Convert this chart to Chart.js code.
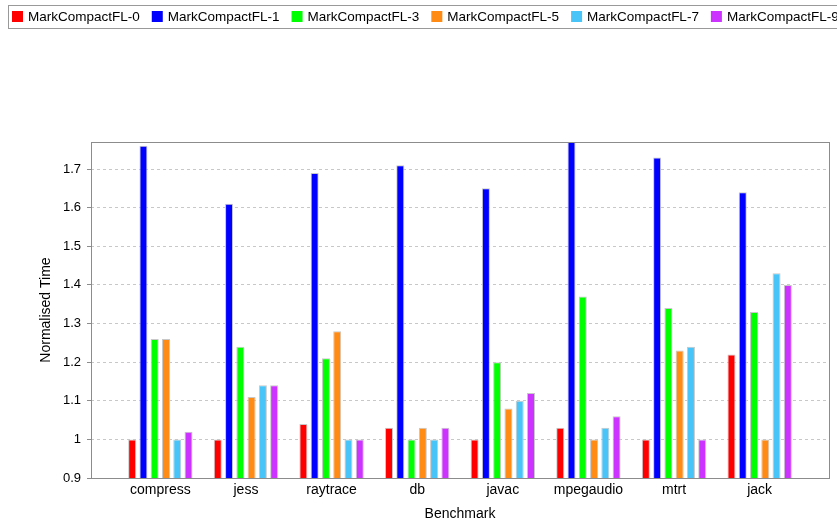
<!DOCTYPE html>
<html>
<head>
<meta charset="utf-8">
<script src="https://cdn.jsdelivr.net/npm/chart.js@4.4.1/dist/chart.umd.min.js"></script>
<style>
  html, body { margin: 0; padding: 0; background: #fff; }
  #wrap { width: 837px; height: 525px; }
</style>
</head>
<body>
<div id="wrap"><canvas id="myChart" width="837" height="525"></canvas></div>
<script>
var benchmarks = ['compress', 'jess', 'raytrace', 'db', 'javac', 'mpegaudio', 'mtrt', 'jack'];
var seriesNames = ['MarkCompactFL-0', 'MarkCompactFL-1', 'MarkCompactFL-3', 'MarkCompactFL-5', 'MarkCompactFL-7', 'MarkCompactFL-9'];
var seriesColors = ['#ff0000', '#0000ff', '#00ff00', '#ff8a14', '#48c4f8', '#cc33ff'];

var fl0 = [1.00, 1.00, 1.04, 1.03, 1.00, 1.03, 1.00, 1.22];
var fl1 = [1.76, 1.61, 1.69, 1.71, 1.65, 1.78, 1.73, 1.64];
var fl3 = [1.26, 1.24, 1.21, 1.00, 1.20, 1.37, 1.34, 1.33];
var fl5 = [1.26, 1.11, 1.28, 1.03, 1.08, 1.00, 1.23, 1.00];
var fl7 = [1.00, 1.14, 1.00, 1.00, 1.10, 1.03, 1.24, 1.43];
var fl9 = [1.02, 1.14, 1.00, 1.03, 1.12, 1.06, 1.00, 1.40];

var yTicks = [0.9, 1.0, 1.1, 1.2, 1.3, 1.4, 1.5, 1.6, 1.7];

var FONT = '"Liberation Sans", Arial, sans-serif';
var allSeries = [fl0, fl1, fl3, fl5, fl7, fl9];

// benchmarks sit at x = 1..8 on a linear axis so the frame can have extra room at the sides
var datasets = allSeries.map(function(values, i) {
    return {
        label: seriesNames[i],
        data: values.map(function(v, j) { return {x: j + 1, y: v}; }),
        backgroundColor: seriesColors[i],
        borderColor: '#c8c8c8',
        borderWidth: 1,
        borderSkipped: false,
        categoryPercentage: 0.79,
        barPercentage: 0.71
    };
});

// legend strip across the top, left aligned and running off the right edge
var topLegend = {
    id: 'topLegend',
    afterDraw: function(chart) {
        var ctx = chart.ctx;
        ctx.save();
        ctx.strokeStyle = '#999';
        ctx.lineWidth = 1;
        ctx.strokeRect(8.5, 5.5, 900, 23);
        ctx.font = '13.5px ' + FONT;
        ctx.textBaseline = 'middle';
        var x = 12;
        chart.data.datasets.forEach(function(ds) {
            ctx.fillStyle = ds.backgroundColor;
            ctx.fillRect(x, 11, 11, 11);
            ctx.fillStyle = '#000';
            ctx.fillText(ds.label, x + 16, 17);
            x += 16 + ctx.measureText(ds.label).width + 12;
        });
        ctx.restore();
    }
};

// grey frame round the plot area
var plotFrame = {
    id: 'plotFrame',
    afterDatasetsDraw: function(chart) {
        var a = chart.chartArea;
        var ctx = chart.ctx;
        ctx.save();
        ctx.strokeStyle = '#8c8c8c';
        ctx.lineWidth = 1;
        ctx.strokeRect(Math.round(a.left) + 0.5, Math.round(a.top) + 0.5,
                       Math.round(a.right - a.left), Math.round(a.bottom - a.top));
        ctx.restore();
    }
};

var ctx = document.getElementById('myChart').getContext('2d');
var myChart = new Chart(ctx, {
    type: 'bar',
    data: { datasets: datasets },
    plugins: [topLegend, plotFrame],
    options: {
        responsive: false,
        animation: false,
        layout: { padding: { top: 142, right: 8, left: 0, bottom: 0 } },
        plugins: {
            legend: { display: false },
            tooltip: { enabled: false }
        },
        scales: {
            x: {
                type: 'linear',
                offset: false,
                min: 0.19,
                max: 8.81,
                afterBuildTicks: function(scale) {
                    scale.ticks = benchmarks.map(function(b, i) { return {value: i + 1}; });
                },
                afterFit: function(scale) { scale.height = 47; },
                grid: { display: false, drawTicks: false, tickLength: 0, offset: false },
                border: { display: false },
                ticks: {
                    autoSkip: false,
                    maxRotation: 0,
                    padding: 4,
                    color: '#000',
                    font: { family: FONT, size: 14 },
                    callback: function(v) { return benchmarks[v - 1]; }
                },
                title: {
                    display: true,
                    text: 'Benchmark',
                    color: '#000',
                    font: { family: FONT, size: 14 },
                    padding: { top: 0, bottom: 2 }
                }
            },
            y: {
                min: 0.9,
                max: 1.77,
                afterBuildTicks: function(scale) {
                    scale.ticks = yTicks.map(function(v) { return {value: v}; });
                },
                afterFit: function(scale) { scale.width = 91; },
                grid: {
                    color: '#c8c8c8',
                    tickColor: '#8c8c8c',
                    tickLength: 4,
                    lineWidth: 1
                },
                border: { display: false, dash: [3, 3] },
                ticks: {
                    padding: 6,
                    color: '#000',
                    font: { family: FONT, size: 13 },
                    callback: function(v) { return String(Math.round(v * 10) / 10); }
                },
                title: {
                    display: true,
                    text: 'Normalised Time',
                    color: '#000',
                    font: { family: FONT, size: 14 },
                    padding: { top: 38, bottom: 0 }
                }
            }
        }
    }
});
</script>
</body>
</html>
